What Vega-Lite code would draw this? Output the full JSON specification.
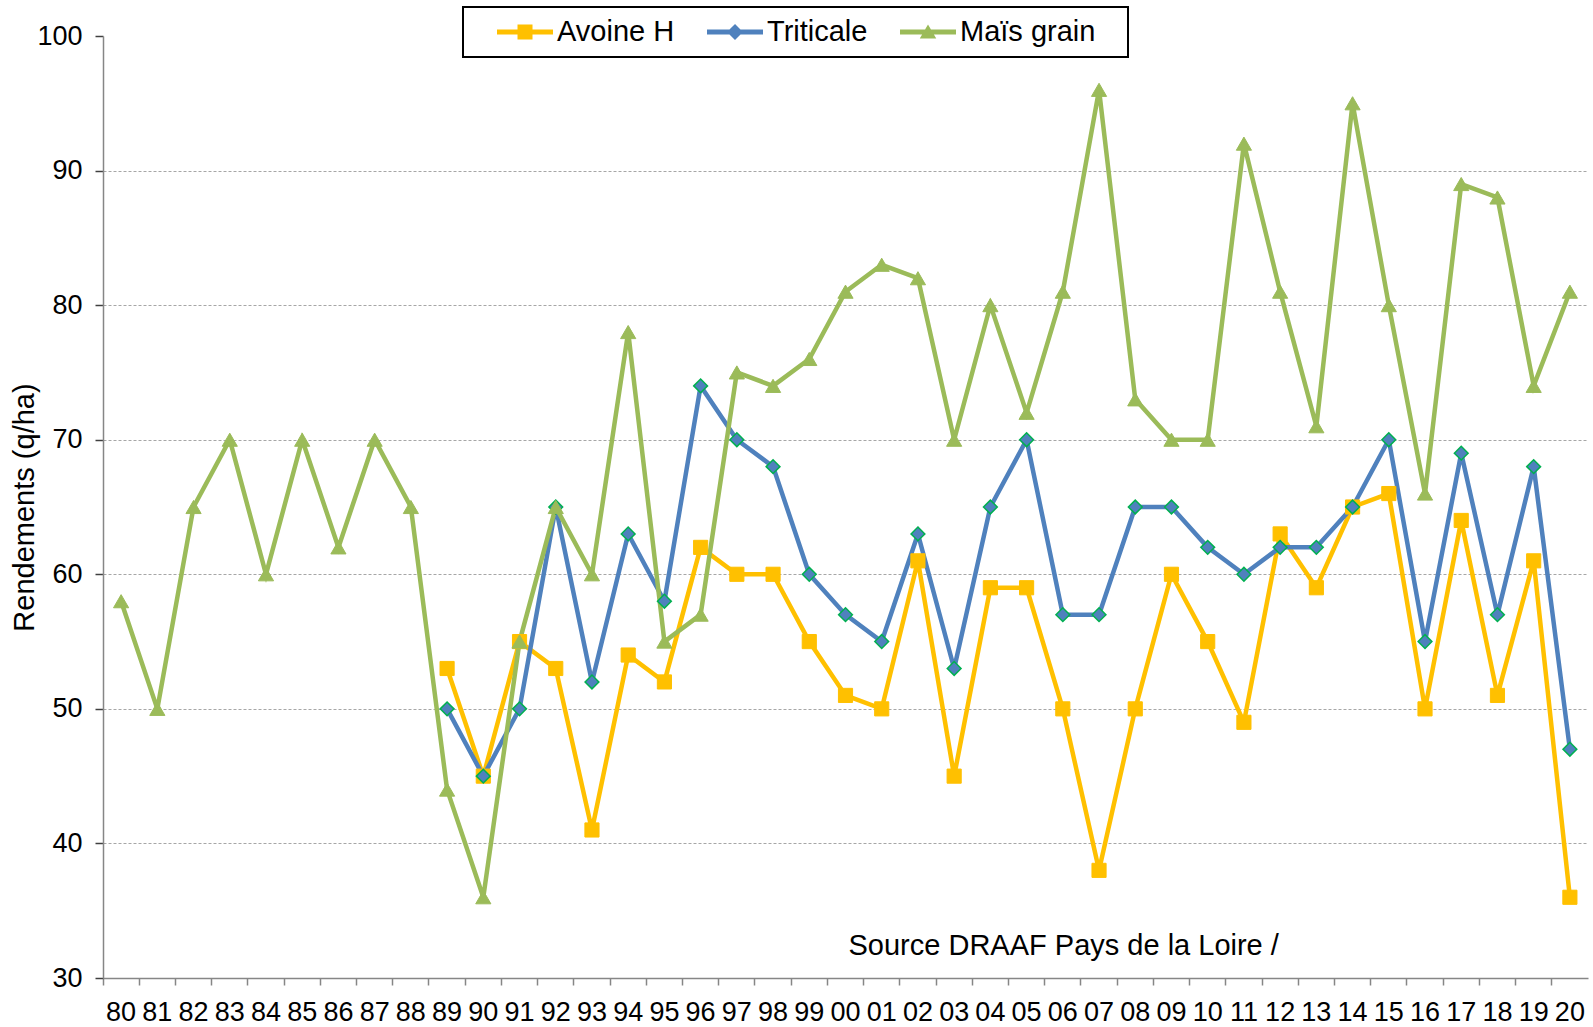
{
  "$schema": "https://vega.github.io/schema/vega-lite/v6.json",
  "autosize": {"type": "none"},
  "width": 1485,
  "height": 942,
  "padding": {"left": 103, "top": 36, "right": 5, "bottom": 49},
  "background": "white",
  "config": {
    "font": "Liberation Sans",
    "view": {"stroke": null}
  },
  "datasets": {
    "series": [
      {"yr": 1989, "s": "Avoine H", "v": 53}, {"yr": 1990, "s": "Avoine H", "v": 45}, {"yr": 1991, "s": "Avoine H", "v": 55}, {"yr": 1992, "s": "Avoine H", "v": 53},
      {"yr": 1993, "s": "Avoine H", "v": 41}, {"yr": 1994, "s": "Avoine H", "v": 54}, {"yr": 1995, "s": "Avoine H", "v": 52}, {"yr": 1996, "s": "Avoine H", "v": 62},
      {"yr": 1997, "s": "Avoine H", "v": 60}, {"yr": 1998, "s": "Avoine H", "v": 60}, {"yr": 1999, "s": "Avoine H", "v": 55}, {"yr": 2000, "s": "Avoine H", "v": 51},
      {"yr": 2001, "s": "Avoine H", "v": 50}, {"yr": 2002, "s": "Avoine H", "v": 61}, {"yr": 2003, "s": "Avoine H", "v": 45}, {"yr": 2004, "s": "Avoine H", "v": 59},
      {"yr": 2005, "s": "Avoine H", "v": 59}, {"yr": 2006, "s": "Avoine H", "v": 50}, {"yr": 2007, "s": "Avoine H", "v": 38}, {"yr": 2008, "s": "Avoine H", "v": 50},
      {"yr": 2009, "s": "Avoine H", "v": 60}, {"yr": 2010, "s": "Avoine H", "v": 55}, {"yr": 2011, "s": "Avoine H", "v": 49}, {"yr": 2012, "s": "Avoine H", "v": 63},
      {"yr": 2013, "s": "Avoine H", "v": 59}, {"yr": 2014, "s": "Avoine H", "v": 65}, {"yr": 2015, "s": "Avoine H", "v": 66}, {"yr": 2016, "s": "Avoine H", "v": 50},
      {"yr": 2017, "s": "Avoine H", "v": 64}, {"yr": 2018, "s": "Avoine H", "v": 51}, {"yr": 2019, "s": "Avoine H", "v": 61}, {"yr": 2020, "s": "Avoine H", "v": 36},
      {"yr": 1989, "s": "Triticale", "v": 50}, {"yr": 1990, "s": "Triticale", "v": 45}, {"yr": 1991, "s": "Triticale", "v": 50}, {"yr": 1992, "s": "Triticale", "v": 65},
      {"yr": 1993, "s": "Triticale", "v": 52}, {"yr": 1994, "s": "Triticale", "v": 63}, {"yr": 1995, "s": "Triticale", "v": 58}, {"yr": 1996, "s": "Triticale", "v": 74},
      {"yr": 1997, "s": "Triticale", "v": 70}, {"yr": 1998, "s": "Triticale", "v": 68}, {"yr": 1999, "s": "Triticale", "v": 60}, {"yr": 2000, "s": "Triticale", "v": 57},
      {"yr": 2001, "s": "Triticale", "v": 55}, {"yr": 2002, "s": "Triticale", "v": 63}, {"yr": 2003, "s": "Triticale", "v": 53}, {"yr": 2004, "s": "Triticale", "v": 65},
      {"yr": 2005, "s": "Triticale", "v": 70}, {"yr": 2006, "s": "Triticale", "v": 57}, {"yr": 2007, "s": "Triticale", "v": 57}, {"yr": 2008, "s": "Triticale", "v": 65},
      {"yr": 2009, "s": "Triticale", "v": 65}, {"yr": 2010, "s": "Triticale", "v": 62}, {"yr": 2011, "s": "Triticale", "v": 60}, {"yr": 2012, "s": "Triticale", "v": 62},
      {"yr": 2013, "s": "Triticale", "v": 62}, {"yr": 2014, "s": "Triticale", "v": 65}, {"yr": 2015, "s": "Triticale", "v": 70}, {"yr": 2016, "s": "Triticale", "v": 55},
      {"yr": 2017, "s": "Triticale", "v": 69}, {"yr": 2018, "s": "Triticale", "v": 57}, {"yr": 2019, "s": "Triticale", "v": 68}, {"yr": 2020, "s": "Triticale", "v": 47},
      {"yr": 1980, "s": "Maïs grain", "v": 58}, {"yr": 1981, "s": "Maïs grain", "v": 50}, {"yr": 1982, "s": "Maïs grain", "v": 65}, {"yr": 1983, "s": "Maïs grain", "v": 70},
      {"yr": 1984, "s": "Maïs grain", "v": 60}, {"yr": 1985, "s": "Maïs grain", "v": 70}, {"yr": 1986, "s": "Maïs grain", "v": 62}, {"yr": 1987, "s": "Maïs grain", "v": 70},
      {"yr": 1988, "s": "Maïs grain", "v": 65}, {"yr": 1989, "s": "Maïs grain", "v": 44}, {"yr": 1990, "s": "Maïs grain", "v": 36}, {"yr": 1991, "s": "Maïs grain", "v": 55},
      {"yr": 1992, "s": "Maïs grain", "v": 65}, {"yr": 1993, "s": "Maïs grain", "v": 60}, {"yr": 1994, "s": "Maïs grain", "v": 78}, {"yr": 1995, "s": "Maïs grain", "v": 55},
      {"yr": 1996, "s": "Maïs grain", "v": 57}, {"yr": 1997, "s": "Maïs grain", "v": 75}, {"yr": 1998, "s": "Maïs grain", "v": 74}, {"yr": 1999, "s": "Maïs grain", "v": 76},
      {"yr": 2000, "s": "Maïs grain", "v": 81}, {"yr": 2001, "s": "Maïs grain", "v": 83}, {"yr": 2002, "s": "Maïs grain", "v": 82}, {"yr": 2003, "s": "Maïs grain", "v": 70},
      {"yr": 2004, "s": "Maïs grain", "v": 80}, {"yr": 2005, "s": "Maïs grain", "v": 72}, {"yr": 2006, "s": "Maïs grain", "v": 81}, {"yr": 2007, "s": "Maïs grain", "v": 96},
      {"yr": 2008, "s": "Maïs grain", "v": 73}, {"yr": 2009, "s": "Maïs grain", "v": 70}, {"yr": 2010, "s": "Maïs grain", "v": 70}, {"yr": 2011, "s": "Maïs grain", "v": 92},
      {"yr": 2012, "s": "Maïs grain", "v": 81}, {"yr": 2013, "s": "Maïs grain", "v": 71}, {"yr": 2014, "s": "Maïs grain", "v": 95}, {"yr": 2015, "s": "Maïs grain", "v": 80},
      {"yr": 2016, "s": "Maïs grain", "v": 66}, {"yr": 2017, "s": "Maïs grain", "v": 89}, {"yr": 2018, "s": "Maïs grain", "v": 88}, {"yr": 2019, "s": "Maïs grain", "v": 74},
      {"yr": 2020, "s": "Maïs grain", "v": 81}
    ],
    "note": [{"yr": 2000, "v": 31.7, "txt": "Source DRAAF Pays de la Loire /"}]
  },
  "encoding": {
    "x": {
      "field": "yr", "type": "ordinal",
      "scale": {"type": "band", "paddingInner": 0, "paddingOuter": 0},
      "axis": {
        "title": null,
        "labelExpr": "substring(toString(datum.value), 2)",
        "labelAngle": 0,
        "labelFontSize": 27,
        "labelColor": "#000000",
        "labelPadding": 14,
        "labelOverlap": false,
        "labelFlush": false,
        "bandPosition": 0,
        "tickSize": 7,
        "tickColor": "#868686",
        "tickWidth": 1.5,
        "domainColor": "#868686",
        "domainWidth": 1.5,
        "grid": false
      }
    },
    "y": {
      "field": "v", "type": "quantitative",
      "scale": {"domain": [30, 100], "nice": false, "zero": false},
      "axis": {
        "title": "Rendements (q/ha)",
        "titleFontSize": 29,
        "titleFontWeight": "normal",
        "titleColor": "#000000",
        "titlePadding": -3,
        "values": [30, 40, 50, 60, 70, 80, 90, 100],
        "labelFontSize": 27,
        "labelColor": "#000000",
        "labelPadding": 13,
        "tickSize": 8,
        "tickColor": "#404040",
        "tickWidth": 1.5,
        "domainColor": "#868686",
        "domainWidth": 1.5,
        "grid": true,
        "gridColor": "#A6A6A6",
        "gridDash": [3, 2],
        "gridWidth": 1,
        "gridOpacity": {"condition": {"test": "datum.value === 100 || datum.value === 30", "value": 0}, "value": 1}
      }
    }
  },
  "layer": [
    {
      "data": {"name": "series"},
      "mark": {"type": "line", "strokeWidth": 4.5},
      "encoding": {
        "color": {
          "field": "s", "type": "nominal",
          "scale": {"domain": ["Avoine H", "Triticale", "Maïs grain"], "range": ["#FFC000", "#4F81BD", "#9BBB59"]},
          "legend": {
            "orient": "none",
            "legendX": 360,
            "legendY": -29,
            "direction": "horizontal",
            "title": null,
            "padding": 10,
            "strokeColor": "#000000",
            "fillColor": "#FFFFFF",
            "symbolSize": 900,
            "labelFontSize": 29,
            "labelColor": "#000000",
            "labelOffset": 54,
            "columnPadding": 8,
            "labelLimit": 400,
            "encode": {
              "legend": {"update": {"strokeWidth": {"value": 2}}},
              "symbols": {
                "update": {
                  "shape": {"signal": "datum.value === 'Avoine H' ? 'M0.6,-0.167H4.333V0.167H0.6Z M1.967,-0.5H2.967V0.5H1.967Z' : datum.value === 'Triticale' ? 'M0.6,-0.167H4.333V0.167H0.6Z M2.467,-0.533L3,0L2.467,0.533L1.933,0Z' : 'M0.6,-0.167H4.333V0.167H0.6Z M2.467,-0.5L3.017,0.43H1.917Z M15.067,0L15.077,0Z'"},
                  "fill": {"signal": "datum.value === 'Avoine H' ? '#FFC000' : datum.value === 'Triticale' ? '#4F81BD' : '#9BBB59'"},
                  "strokeWidth": {"value": 0},
                  "opacity": {"value": 1}
                }
              }
            }
          }
        }
      }
    },
    {
      "data": {"name": "series"},
      "transform": [{"filter": "datum.s === 'Avoine H'"}],
      "mark": {"type": "point", "shape": "square", "filled": true, "fill": "#FFC000", "stroke": "#FFC000", "strokeWidth": 1, "size": 200, "opacity": 1}
    },
    {
      "data": {"name": "series"},
      "transform": [{"filter": "datum.s === 'Triticale'"}],
      "mark": {"type": "point", "shape": "diamond", "filled": true, "fill": "#4F81BD", "stroke": "#00B050", "strokeWidth": 1.5, "size": 190, "opacity": 1}
    },
    {
      "data": {"name": "series"},
      "transform": [{"filter": "datum.s === 'Maïs grain'"}],
      "mark": {"type": "point", "shape": "triangle-up", "filled": true, "fill": "#9BBB59", "stroke": "#9BBB59", "strokeWidth": 1, "size": 230, "opacity": 1}
    },
    {
      "data": {"name": "note"},
      "mark": {"type": "text", "align": "left", "baseline": "alphabetic", "dx": 3, "fontSize": 29, "color": "#000000"},
      "encoding": {"text": {"field": "txt"}}
    }
  ]
}
